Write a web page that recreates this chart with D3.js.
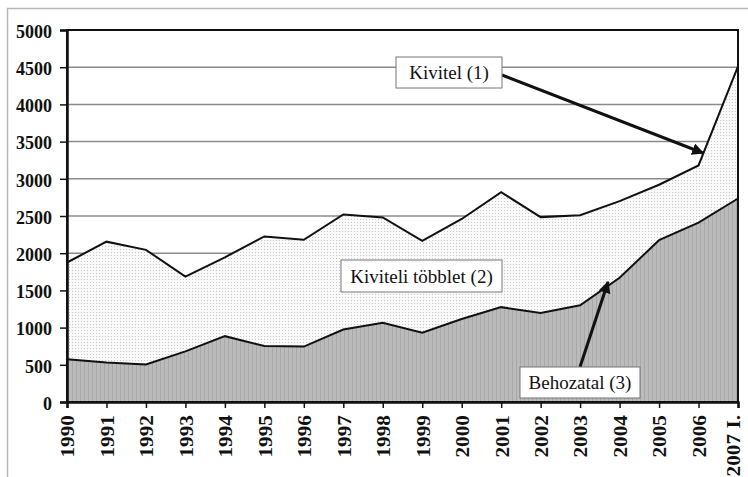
<!DOCTYPE html>
<html>
<head>
<meta charset="utf-8">
<script src="https://cdn.jsdelivr.net/npm/d3@7"></script>
<style>
  body { margin: 0; background: #fff; }
  svg { display: block; }
  .tick text { font-family: "Liberation Serif", "Times New Roman", serif; font-weight: bold; fill: #111; }
  .note text { font-family: "Liberation Serif", "Times New Roman", serif; fill: #111; }
</style>
</head>
<body>
<script>
const years = ['1990','1991','1992','1993','1994','1995','1996','1997','1998','1999','2000','2001','2002','2003','2004','2005','2006','2007 I.']
const kivitel = [1875,2155,2045,1685,1945,2225,2180,2520,2480,2165,2460,2820,2485,2510,2700,2920,3180,4510]
const behozatal = [575,530,505,680,885,752,745,975,1065,930,1115,1275,1195,1300,1670,2175,2410,2735]
const yTicks = [0,500,1000,1500,2000,2500,3000,3500,4000,4500,5000]

const W = 748, H = 477
const margin = {left:67, right:10, top:30, bottom:75}

const svg = d3.select('body').append('svg')
  .attr('width',W)
  .attr('height',H)

const defs = svg.append('defs')
const dots = defs.append('pattern').attr('id','dots')
  .attr('patternUnits','userSpaceOnUse').attr('width',3).attr('height',3)
dots.append('rect').attr('width',3).attr('height',3).attr('fill','#fafafa')
dots.append('rect').attr('width',1).attr('height',1).attr('fill','#c8c8c8')
const stripes = defs.append('pattern').attr('id','stripes')
  .attr('patternUnits','userSpaceOnUse').attr('width',4).attr('height',4)
stripes.append('rect').attr('width',4).attr('height',4).attr('fill','#bbbbbb')
stripes.append('rect').attr('width',1).attr('height',4).attr('fill','#a8a8a8')

// outer frame (clipped by the window on right/bottom)
svg.append('rect')
  .attr('x',7.5).attr('y',8.5).attr('width',W+20).attr('height',H+20)
  .attr('fill','none').attr('stroke','#b8b8b8').attr('stroke-width',1.5)

const x = d3.scalePoint().domain(years).range([margin.left, 738])
const y = d3.scaleLinear().domain([0,5000]).range([402, margin.top])

const g = svg.append('g')

// grid
g.append('g').selectAll('line')
  .data(yTicks.filter(d => d>0 && d<5000))
  .join('line')
  .attr('x1',margin.left).attr('x2',738)
  .attr('y1',d => y(d)).attr('y2',d => y(d))
  .attr('stroke','#8a8a8a').attr('stroke-width',1.5)

const data = years.map((yr,i) => ({yr, ki:kivitel[i], be:behozatal[i]}))

g.append('path').datum(data)
  .attr('d',d3.area().x(d => x(d.yr)).y0(d => y(d.be)).y1(d => y(d.ki)))
  .attr('fill','url(#dots)')
g.append('path').datum(data)
  .attr('d',d3.area().x(d => x(d.yr)).y0(y(0)).y1(d => y(d.be)))
  .attr('fill','url(#stripes)')

g.append('path').datum(data)
  .attr('d',d3.line().x(d => x(d.yr)).y(d => y(d.ki)))
  .attr('fill','none').attr('stroke','#111').attr('stroke-width',2)
g.append('path').datum(data)
  .attr('d',d3.line().x(d => x(d.yr)).y(d => y(d.be)))
  .attr('fill','none').attr('stroke','#111').attr('stroke-width',2)

// plot border
g.append('rect')
  .attr('x',margin.left).attr('y',margin.top)
  .attr('width',738-margin.left).attr('height',402-margin.top)
  .attr('fill','none').attr('stroke','#111').attr('stroke-width',2)

const yAxis = g.append('g')
  .attr('transform',`translate(${margin.left},0)`)
  .call(d3.axisLeft(y).tickValues(yTicks).tickSize(7).tickPadding(8).tickFormat(d3.format('d')))
yAxis.select('.domain').attr('stroke-width',2.5).attr('stroke','#111')
yAxis.selectAll('.tick line').attr('stroke','#111').attr('stroke-width',1.5)
yAxis.selectAll('.tick text').attr('font-size',18).attr('dy','0.4em')

const xAxis = g.append('g')
  .attr('transform',`translate(0,402)`)
  .call(d3.axisBottom(x).tickSize(6).tickPadding(0))
xAxis.select('.domain').attr('stroke-width',2.5).attr('stroke','#111')
xAxis.selectAll('.tick line').attr('stroke','#111').attr('stroke-width',1.5)
xAxis.selectAll('.tick text')
  .attr('font-size',19)
  .attr('text-anchor','end')
  .attr('transform','translate(0,13) rotate(-90) scale(1.12,1)')
  .attr('x',0).attr('y',0)
  .attr('dy',(d,i) => i == years.length-1 ? '0.1em' : '0.36em')

// annotations
const notes = [
  {text:'Kivitel (1)', x:396, y:57, w:106, h:31, from:[502,75], to:[703,153]},
  {text:'Kiviteli többlet (2)', x:341, y:260, w:161, h:32},
  {text:'Behozatal (3)', x:520, y:367, w:120, h:31, from:[580,367], to:[608,282]}
]
defs.append('marker').attr('id','arrow')
  .attr('viewBox','0 0 10 10').attr('refX',9).attr('refY',5)
  .attr('markerWidth',4).attr('markerHeight',4).attr('orient','auto')
  .append('path').attr('d','M0,0L10,5L0,10z').attr('fill','#111')

const note = g.append('g').attr('class','note').selectAll('g')
  .data(notes).join('g')
note.filter(d => d.from).append('line')
  .attr('x1',d => d.from[0]).attr('y1',d => d.from[1])
  .attr('x2',d => d.to[0]).attr('y2',d => d.to[1])
  .attr('stroke','#111').attr('stroke-width',3)
  .attr('marker-end','url(#arrow)')
note.append('rect')
  .attr('x',d => d.x).attr('y',d => d.y)
  .attr('width',d => d.w).attr('height',d => d.h)
  .attr('fill','#fff').attr('stroke','#777').attr('stroke-width',1)
note.append('text')
  .attr('x',d => d.x+d.w/2).attr('y',d => d.y+d.h/2)
  .attr('dy','0.35em').attr('text-anchor','middle')
  .attr('font-size',19)
  .text(d => d.text)
</script>
</body>
</html>
